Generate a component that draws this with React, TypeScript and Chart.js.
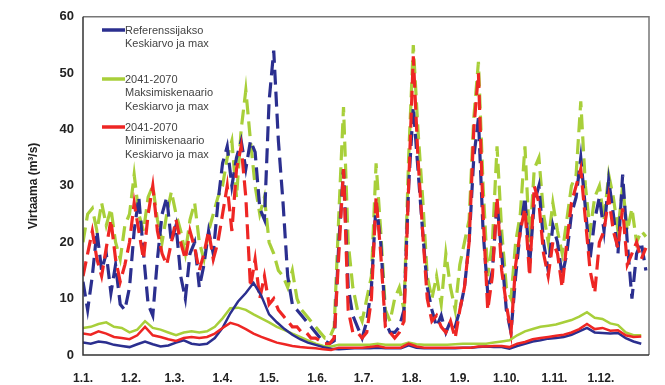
import React, { useEffect, useRef } from "react";
import { Chart, registerables } from "chart.js";

Chart.register(...registerables);

// ---- Data ----
const monthStartDays = [0, 31, 59, 90, 120, 151, 181, 212, 243, 273, 304, 334];
const monthLabels = ["1.1.", "1.2.", "1.3.", "1.4.", "1.5.", "1.6.", "1.7.", "1.8.", "1.9.", "1.10.", "1.11.", "1.12."];
const yTickValues = [0, 10, 20, 30, 40, 50, 60];

const maxStepDays = 3; // sampling interval of the max series (days)
const meanStepDays = 5; // sampling interval of the mean series (days)

const refMax = [
  13, 8, 14, 22, 15, 18, 11, 16, 9, 8, 12,
  22, 28, 18, 9, 7, 17, 25, 28, 20,
  23, 14, 10, 18, 20, 12, 16, 22, 18, 27,
  34, 37, 30, 35, 38, 33, 38, 36, 26, 24,
  45, 54, 38, 27, 14, 9, 8, 7, 6, 5, 4,
  3, 2.5, 2, 2.5, 20, 33, 12, 7, 5, 3,
  6, 12, 27, 20, 6, 4, 4, 5, 8, 30,
  44, 33, 22, 12, 8, 5, 7, 4, 6, 5,
  8, 12, 20, 35, 42, 22, 11, 15, 27, 18,
  8, 4, 14, 22, 28, 16, 27, 30, 20, 15,
  23, 20, 14, 18, 25, 28, 35, 26, 17, 24,
  28, 22, 31, 25, 18, 32, 20, 10, 18, 20, 15,
];

const scenMaxMax = [
  20, 25, 26, 22, 27, 23, 26, 20, 17, 23, 25,
  32, 25, 22, 28, 30, 24, 20, 25, 29,
  25, 22, 18, 24, 27, 20, 17, 22, 25, 28,
  30, 35, 38, 28, 40, 47, 38, 30, 25, 28,
  20, 18, 15, 14, 12, 15, 10, 8, 7, 6, 5,
  4, 3, 3, 5, 25, 44, 20, 12, 8, 6,
  10, 14, 34, 22, 8, 6, 10, 12, 8, 35,
  55, 40, 28, 14, 10, 14, 9, 18, 12, 8,
  16, 20, 24, 42, 52, 30, 14, 20, 37, 22,
  12, 10, 20, 25, 37, 20, 33, 35, 25, 20,
  27, 22, 18, 24, 30, 32, 45, 30, 22, 28,
  30, 24, 32, 28, 22, 30, 22, 26, 20, 22, 21,
];

const scenMinMax = [
  14, 18, 22, 17, 14, 19, 24, 17, 13, 16, 20,
  27, 22, 17, 25, 30, 22, 18, 16, 20,
  24, 20, 17, 22, 19, 15, 18, 22, 17, 20,
  25, 30, 22, 33, 37, 28, 12, 17, 10, 14,
  9, 10, 8, 7, 6, 5, 5, 4, 4, 3, 3,
  2.5, 2, 2, 3, 18, 33, 8, 4, 4, 3,
  4, 10, 28, 18, 5, 4, 3, 4, 6, 30,
  53, 35, 22, 10, 6, 7, 5, 4, 6, 3,
  8, 12, 20, 40, 50, 25, 8, 14, 28, 15,
  9, 4, 16, 22, 26, 14, 30, 27, 18, 14,
  20, 18, 12, 20, 27, 30, 33, 24, 15, 11,
  20, 22, 28, 22, 19, 26, 16, 18, 20, 17, 19,
];

const refMean = [
  2.2, 2.0, 2.4, 2.2, 1.8, 1.6, 1.4, 1.9, 2.4, 1.9,
  1.5, 1.7, 2.2, 2.6, 2.0, 1.8, 2.0, 3.0, 4.8, 7.4,
  9.5, 11, 12.8, 10.5, 7.2, 5.8, 4.6, 3.6, 2.8, 2.2,
  1.8, 1.4, 1.1, 1.0, 1.1, 1.2, 1.2, 1.2, 1.3, 1.2,
  1.2, 1.2, 1.7, 1.3, 1.2, 1.2, 1.2, 1.2, 1.2, 1.3,
  1.3, 1.4, 1.5, 1.4, 1.4, 1.1, 1.6, 2.0, 2.4, 2.6,
  2.9, 3.0, 3.2, 3.6, 4.2, 4.8, 4.0, 3.9, 3.8, 3.9,
  3.0, 2.4, 2.0,
];

const scenMaxMean = [
  4.8, 5.0, 5.5, 5.8, 5.0, 4.8, 4.0, 4.5, 6.0, 4.8,
  4.5, 4.0, 3.5, 4.0, 4.2, 4.0, 4.2, 5.0, 6.5, 8.3,
  8.4, 8.0, 7.2, 6.5, 5.8, 5.0, 4.4, 3.8, 3.2, 2.6,
  2.0, 1.6, 1.5, 1.8, 1.8, 1.8, 1.8, 1.8, 2.0, 1.8,
  1.8, 1.8, 2.2, 1.9, 1.8, 1.8, 1.8, 1.8, 1.9, 2.0,
  2.0, 2.0, 2.0, 2.2, 2.4, 2.6, 3.5, 4.2, 4.6, 5.0,
  5.2, 5.4, 5.8, 6.2, 6.8, 7.6, 6.6, 6.4, 5.6, 5.3,
  4.0, 3.5, 3.5,
];

const scenMinMean = [
  3.8, 3.6, 4.2, 3.8, 3.2, 3.0, 2.8, 3.5, 5.0, 3.5,
  3.2, 2.8, 2.5, 3.0, 3.2, 3.0, 3.2, 3.8, 4.8, 5.7,
  5.3, 4.6, 3.8, 3.2, 2.7, 2.2, 1.9, 1.6, 1.4, 1.3,
  1.2, 1.0, 0.9, 1.3, 1.3, 1.3, 1.3, 1.4, 1.6, 1.3,
  1.3, 1.3, 2.0, 1.5, 1.3, 1.3, 1.3, 1.3, 1.3, 1.3,
  1.3, 1.5, 1.5, 1.6, 1.6, 1.4, 2.0, 2.3, 2.8, 3.0,
  3.2, 3.4, 3.6, 4.0, 4.6, 5.5, 4.6, 4.8, 4.3, 4.4,
  3.5, 3.2, 3.3,
];

const legendEntries = [
  { key: "ref", lines: ["Referenssijakso", "Keskiarvo ja max"] },
  { key: "max", lines: ["2041-2070", "Maksimiskenaario", "Keskiarvo ja max"] },
  { key: "min", lines: ["2041-2070", "Minimiskenaario", "Keskiarvo ja max"] },
];

const yTitle = "Virtaama (m³/s)";

// ---- Styles ----
const BLUE = "#2b2f8f";
const GREEN = "#a8cf3a";
const RED = "#ee2624";
const colorOf: Record<string, string> = { ref: BLUE, max: GREEN, min: RED };
const FONT = "'Liberation Sans', Arial, sans-serif";

const toPoints = (arr: number[], step: number) => arr.map((v, i) => ({ x: i * step, y: v }));

const frameAndLegend = {
  id: "frameAndLegend",
  afterDraw(chart: any) {
    const { ctx, chartArea } = chart;
    const { left, right, top, bottom } = chartArea;
    ctx.save();
    // frame
    ctx.lineWidth = 1.5;
    ctx.strokeStyle = "#777";
    ctx.beginPath();
    ctx.moveTo(left, top);
    ctx.lineTo(right, top);
    ctx.lineTo(right, bottom);
    ctx.stroke();
    ctx.strokeStyle = "#333";
    ctx.beginPath();
    ctx.moveTo(left, top);
    ctx.lineTo(left, bottom);
    ctx.lineTo(right, bottom);
    ctx.stroke();
    // legend
    const starts = [31, 80, 128];
    const lineGap = 13.3;
    ctx.font = `11px ${FONT}`;
    ctx.textBaseline = "middle";
    ctx.textAlign = "left";
    legendEntries.forEach((entry, i) => {
      const y0 = starts[i];
      ctx.strokeStyle = colorOf[entry.key];
      ctx.lineWidth = 3.5;
      ctx.beginPath();
      ctx.moveTo(left + 19, y0 - 1);
      ctx.lineTo(left + 42, y0 - 1);
      ctx.stroke();
      ctx.fillStyle = "#444";
      entry.lines.forEach((t, j) => {
        ctx.fillText(t, left + 42, y0 + j * lineGap);
      });
    });
    ctx.restore();
  },
};

export default function App() {
  const canvasRef = useRef<HTMLCanvasElement | null>(null);

  useEffect(() => {
    if (!canvasRef.current) return;
    const dashed = { borderWidth: 3.2, borderDash: [15, 7], pointRadius: 0, tension: 0, fill: false };
    const solid = { borderWidth: 2.5, pointRadius: 0, tension: 0, fill: false };
    const chart = new Chart(canvasRef.current, {
      type: "line",
      data: {
        datasets: [
          { label: "min mean", data: toPoints(scenMinMean, meanStepDays), borderColor: RED, ...solid },
          { label: "ref mean", data: toPoints(refMean, meanStepDays), borderColor: BLUE, ...solid },
          { label: "max mean", data: toPoints(scenMaxMean, meanStepDays), borderColor: GREEN, ...solid },
          { label: "min max", data: toPoints(scenMinMax, maxStepDays), borderColor: RED, ...dashed },
          { label: "ref max", data: toPoints(refMax, maxStepDays), borderColor: BLUE, ...dashed },
          { label: "max max", data: toPoints(scenMaxMax, maxStepDays), borderColor: GREEN, ...dashed },
        ],
      },
      options: {
        responsive: false,
        animation: false,
        layout: { padding: { top: 16, right: 16, left: 0, bottom: 0 } },
        plugins: { legend: { display: false }, tooltip: { enabled: false } },
        scales: {
          x: {
            type: "linear",
            min: 0,
            max: 365,
            grid: { display: false, drawTicks: false },
            border: { display: false },
            afterBuildTicks: (scale: any) => {
              scale.ticks = monthStartDays.map((v) => ({ value: v }));
            },
            afterFit: (scale: any) => {
              scale.height = 30;
            },
            ticks: {
              autoSkip: false,
              maxRotation: 0,
              padding: 16,
              color: "#222",
              font: { family: FONT, size: 12, weight: "bold" },
              callback: (v: any) => monthLabels[monthStartDays.indexOf(Number(v))] ?? "",
            },
          },
          y: {
            min: 0,
            max: 60,
            grid: { display: false, drawTicks: false },
            border: { display: false },
            afterBuildTicks: (scale: any) => {
              scale.ticks = yTickValues.map((v) => ({ value: v }));
            },
            afterFit: (scale: any) => {
              scale.width = 83;
            },
            ticks: {
              padding: 9,
              color: "#222",
              font: { family: FONT, size: 13, weight: "bold" },
            },
            title: {
              display: true,
              text: yTitle,
              color: "#222",
              font: { family: FONT, size: 12, weight: "bold" },
              padding: { top: 26, bottom: 0 },
            },
          },
        },
      },
      plugins: [frameAndLegend],
    } as any);
    return () => chart.destroy();
  }, []);

  return (
    <div style={{ position: "absolute", left: 0, top: 0, width: 665, height: 385, background: "#fff" }}>
      <canvas ref={canvasRef} width={665} height={385} style={{ display: "block" }} />
    </div>
  );
}
